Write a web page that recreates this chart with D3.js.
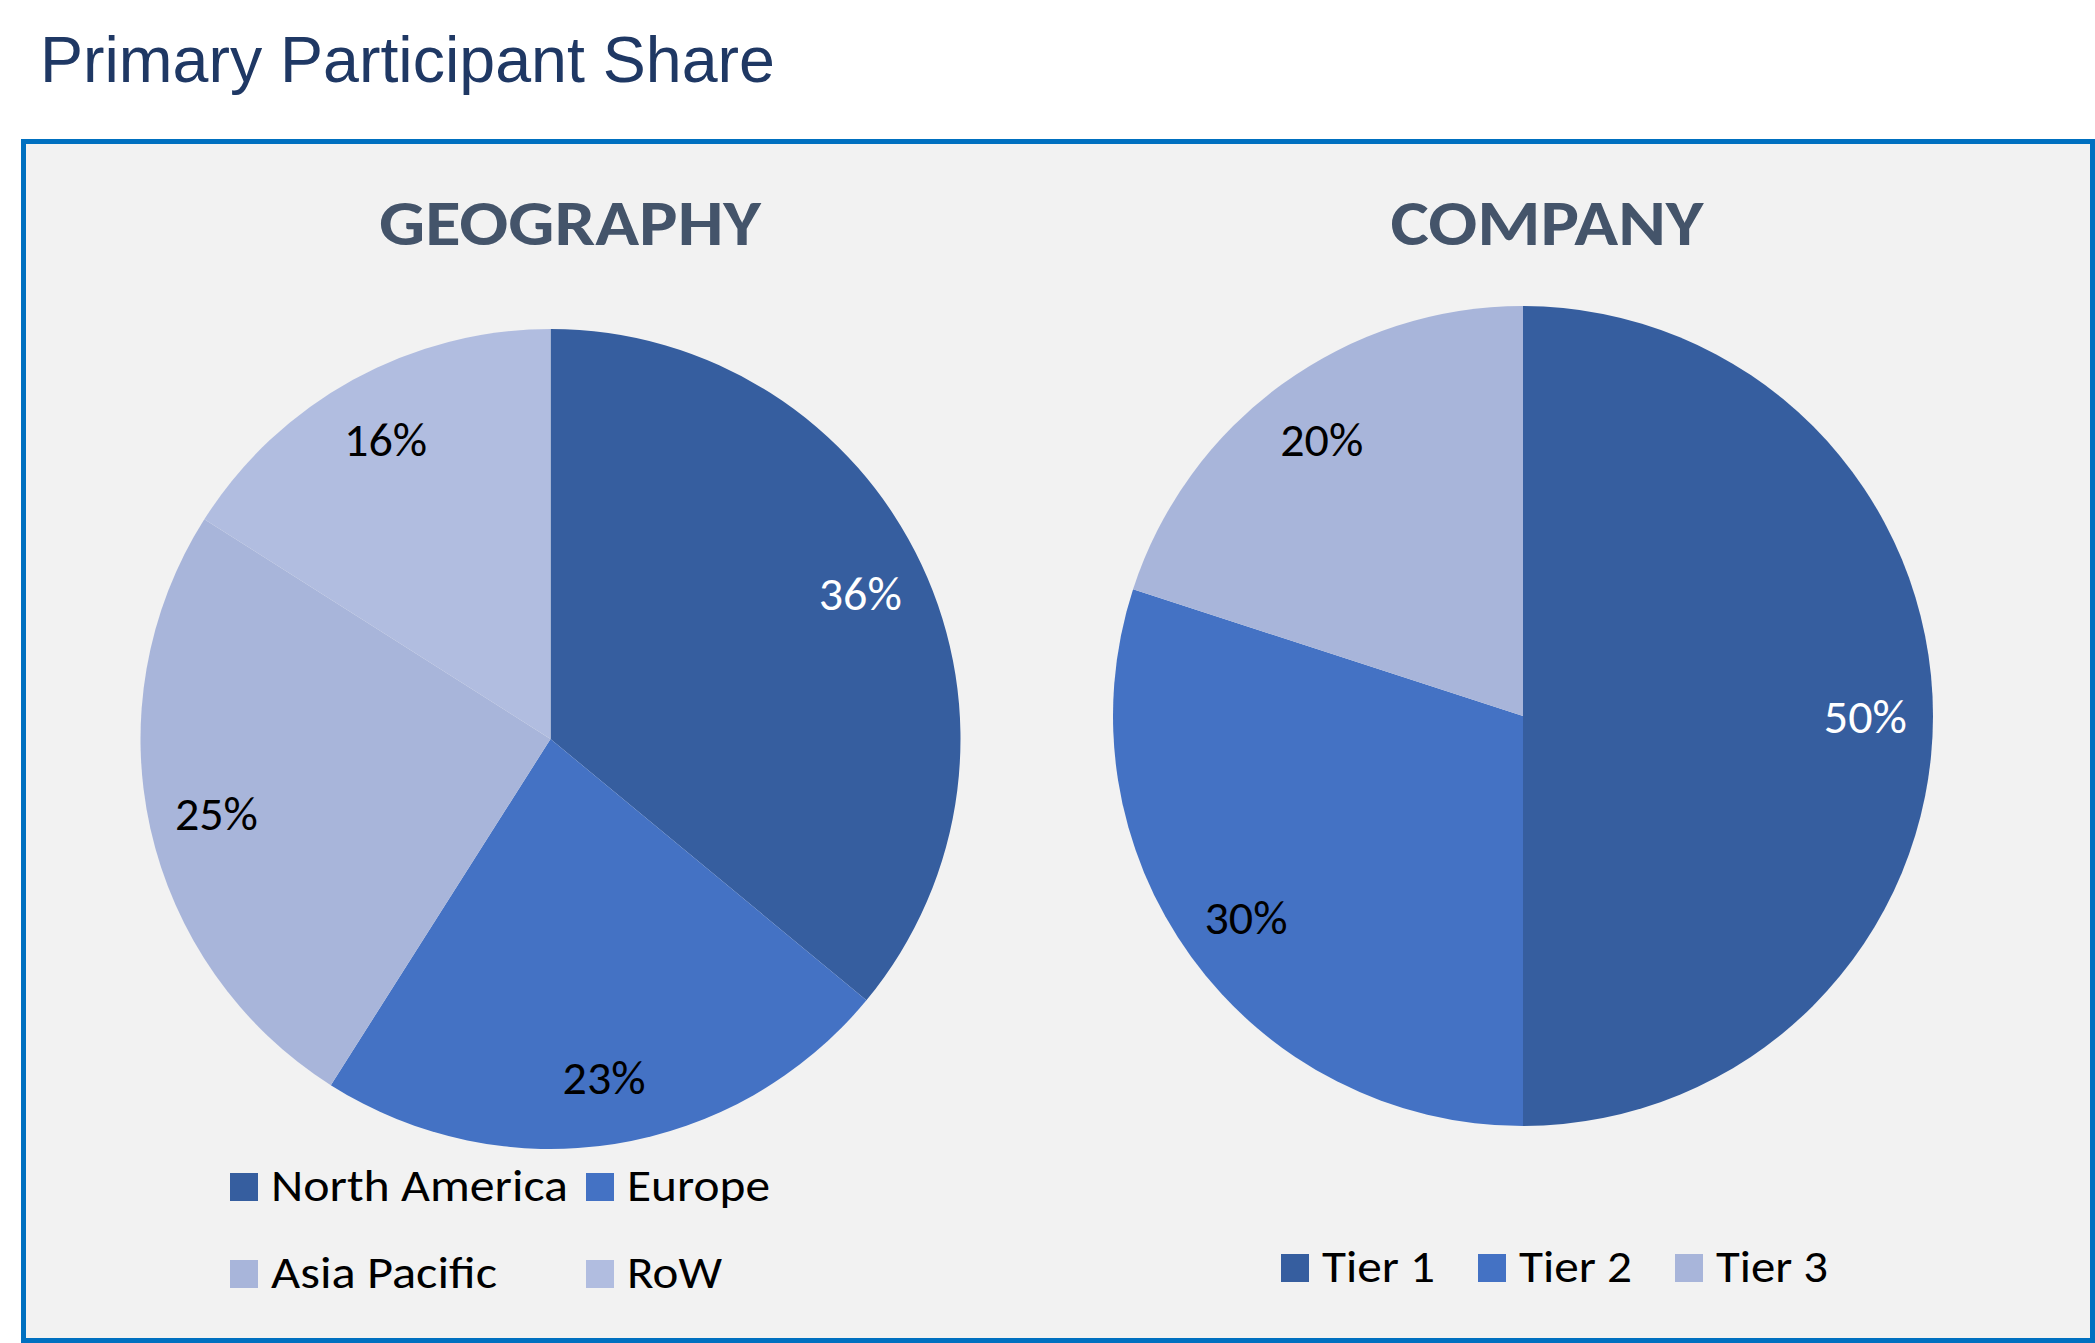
<!DOCTYPE html>
<html>
<head>
<meta charset="utf-8">
<script src="https://cdn.jsdelivr.net/npm/d3@7"></script>
<style>
  html, body { margin: 0; padding: 0; background: #ffffff; }
  svg { display: block; }
</style>
</head>
<body>
<svg id="chart" width="2095" height="1343"></svg>
<script>
// ---- Data ----
const chartTitle = "Primary Participant Share";
const geoTitle = "GEOGRAPHY";
const geoCategories = ["North America", "Europe", "Asia Pacific", "RoW"];
const geoValues = [36, 23, 25, 16];
const companyTitle = "COMPANY";
const companyCategories = ["Tier 1", "Tier 2", "Tier 3"];
const companyValues = [50, 30, 20];

// ---- Styles ----
const geoColors = ["#365e9f", "#4472c4", "#a8b5da", "#b1bde0"];
const companyColors = ["#365e9f", "#4472c4", "#a8b5da"];
const labelColors = ["#ffffff", "#000000", "#000000", "#000000"];
const bodyFont = "Carlito, Calibri, Lato, sans-serif";

const svg = d3.select("#chart");

// Title
svg.append("text")
  .attr("x", 40).attr("y", 82)
  .attr("font-family", "'Liberation Sans', Arial, sans-serif")
  .attr("font-size", 64.5)
  .attr("fill", "#1f3864")
  .text(chartTitle);

// Panel
svg.append("rect")
  .attr("x", 23.5).attr("y", 141.5)
  .attr("width", 2092.5 - 23.5).attr("height", 1340.5 - 141.5)
  .attr("fill", "#f2f2f2")
  .attr("stroke", "#0070c0")
  .attr("stroke-width", 5);

const R = 410;
const pie = d3.pie().sort(null).value(d => d.value).startAngle(0).endAngle(2 * Math.PI);
const arc = d3.arc().innerRadius(0).outerRadius(R);
const labelArc = d3.arc().innerRadius(R * 0.835).outerRadius(R * 0.835);
const labelSize = 48;

function drawPie(cx, cy, cats, vals, colors, title, titleX, titleLen) {
  const color = d3.scaleOrdinal().domain(cats).range(colors);
  const data = cats.map((c, i) => ({ cat: c, value: vals[i] }));
  const g = svg.append("g").attr("transform", `translate(${cx},${cy})`);
  const arcs = pie(data);
  g.selectAll("path").data(arcs).join("path")
    .attr("d", arc)
    .attr("fill", d => color(d.data.cat));
  g.selectAll("text").data(arcs).join("text")
    .attr("transform", d => `translate(${labelArc.centroid(d)})`)
    .attr("text-anchor", "middle")
    .attr("dy", labelSize * 0.35)
    .attr("font-family", bodyFont)
    .attr("font-size", labelSize)
    .attr("fill", (d, i) => labelColors[i])
    .attr("textLength", 83)
    .attr("lengthAdjust", "spacingAndGlyphs")
    .text(d => d.data.value + "%");
  svg.append("text")
    .attr("x", titleX).attr("y", 245)
    .attr("text-anchor", "middle")
    .attr("font-family", bodyFont)
    .attr("font-weight", "bold")
    .attr("font-size", 65)
    .attr("fill", "#44546a")
    .attr("textLength", titleLen)
    .attr("lengthAdjust", "spacingAndGlyphs")
    .text(title);
  return color;
}

const geoColor = drawPie(550.5, 739, geoCategories, geoValues, geoColors, geoTitle, 570, 382);
const compColor = drawPie(1523, 716, companyCategories, companyValues, companyColors, companyTitle, 1547, 313);

// Legends
const sq = 28;
const legendSize = 45;
function legendItem(x, baseline, cat, colorScale, textLen) {
  svg.append("rect")
    .attr("x", x).attr("y", baseline - sq)
    .attr("width", sq).attr("height", sq)
    .attr("fill", colorScale(cat));
  svg.append("text")
    .attr("x", x + 41).attr("y", baseline)
    .attr("font-family", bodyFont)
    .attr("font-size", legendSize)
    .attr("fill", "#000000")
    .attr("textLength", textLen)
    .attr("lengthAdjust", "spacingAndGlyphs")
    .text(cat);
}
// Geography legend: 2 x 2 grid
const geoLegendCols = [230, 586];
const geoLegendRows = [1201, 1288];
const geoTextLens = [297, 143, 226, 95];
geoCategories.forEach((c, i) => {
  legendItem(geoLegendCols[i % 2], geoLegendRows[Math.floor(i / 2)], c, geoColor, geoTextLens[i]);
});
// Company legend: single row
const compLegendX = d3.scalePoint().domain(companyCategories).range([1281, 1675]);
const compTextLens = [113, 113, 112];
companyCategories.forEach((c, i) => {
  legendItem(compLegendX(c), 1282, c, compColor, compTextLens[i]);
});
</script>
</body>
</html>
